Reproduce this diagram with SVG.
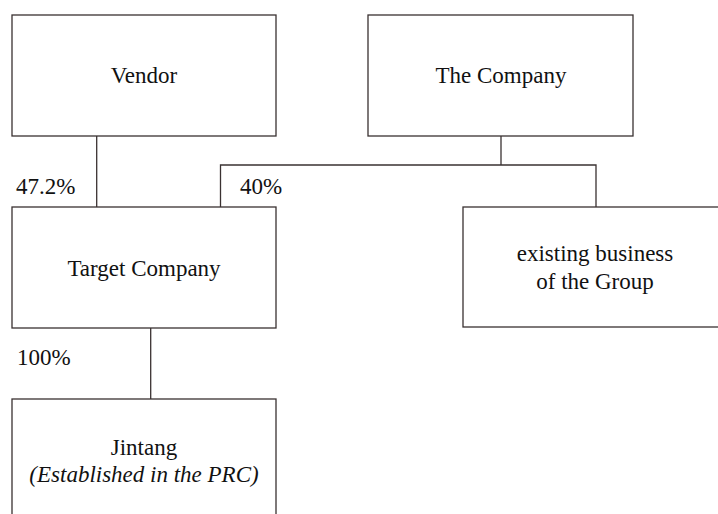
<svg xmlns="http://www.w3.org/2000/svg" width="718" height="514" viewBox="0 0 718 514" font-family="'Liberation Serif', 'DejaVu Serif', serif">
<style>
.box{fill:#fff;stroke:#3a3232;stroke-width:1.3}
.ln{fill:none;stroke:#3a3232;stroke-width:1.3}
text{font-family:'Liberation Serif','DejaVu Serif',serif;font-size:23px;fill:#111}
.c{text-anchor:middle}
.i{font-style:italic}
</style>
<rect width="718" height="514" fill="#fff"/>
<g id="connectors">
<line class="ln" x1="96.7" y1="136" x2="96.7" y2="207"/>
<line class="ln" x1="501" y1="136" x2="501" y2="165"/>
<polyline class="ln" points="220.5,207 220.5,165 596,165 596,207"/>
<line class="ln" x1="150.7" y1="328" x2="150.7" y2="399"/>
<text x="16" y="194">47.2%</text>
<text x="240" y="194">40%</text>
<text x="17" y="365">100%</text>
</g>
<g id="vendor">
<rect class="box" x="12" y="15" width="264" height="121"/>
<text class="c" x="144" y="83">Vendor</text>
</g>
<g id="company">
<rect class="box" x="368" y="15" width="265" height="121"/>
<text class="c" x="501" y="83">The Company</text>
</g>
<g id="target">
<rect class="box" x="12" y="207" width="264" height="121"/>
<text class="c" x="144" y="276">Target Company</text>
</g>
<g id="existing">
<rect class="box" x="463" y="207" width="270" height="120"/>
<text class="c" x="595" y="261">existing business</text>
<text class="c" x="595" y="289">of the Group</text>
</g>
<g id="jintang">
<rect class="box" x="12" y="399" width="264" height="130"/>
<text class="c" x="144" y="455">Jintang</text>
<text class="c i" x="144" y="482">(Established in the PRC)</text>
</g>
</svg>
